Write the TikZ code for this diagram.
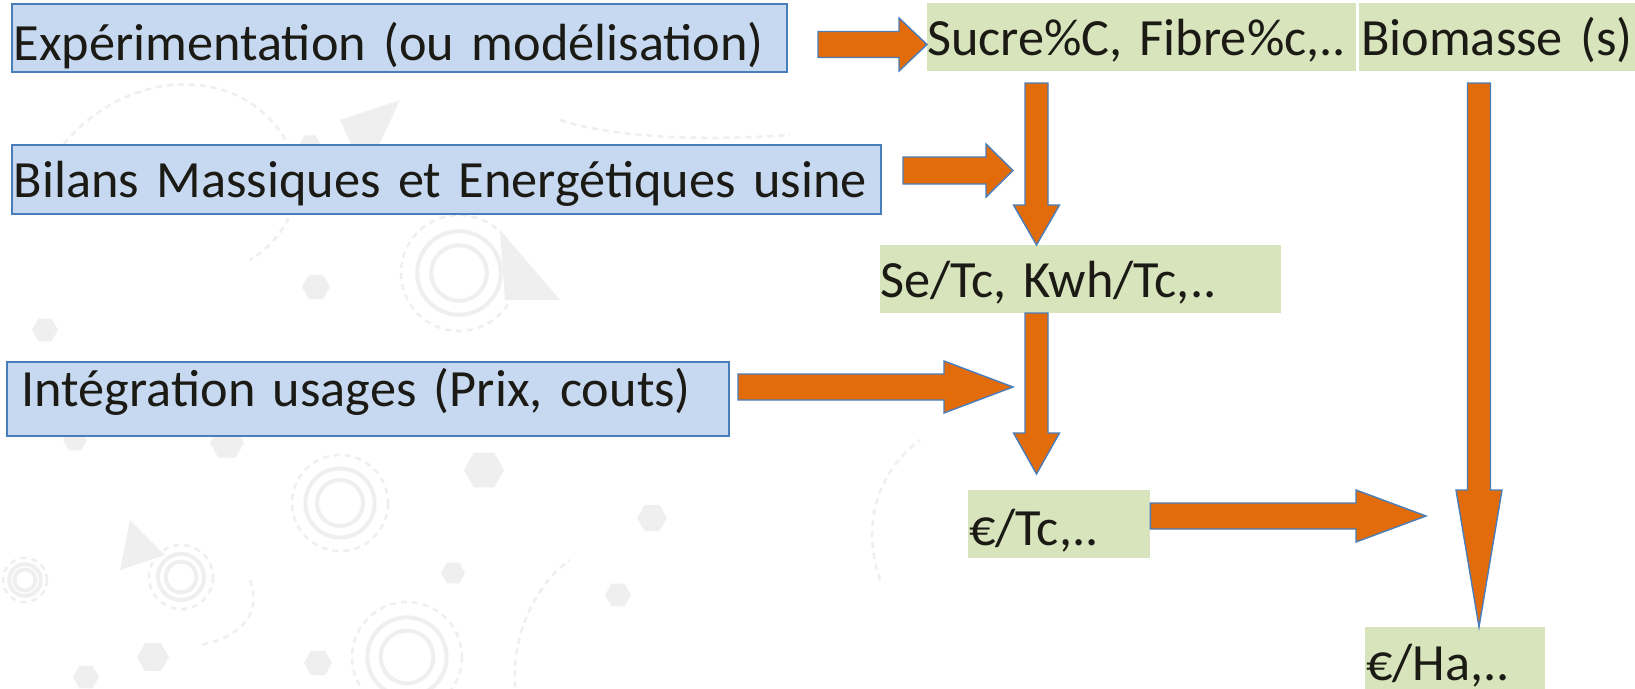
\documentclass[tikz,border=0pt]{standalone}
\usepackage{fontspec}
\setmainfont{Carlito}
\usetikzlibrary{calc,shapes.geometric}

\definecolor{boxblue}{HTML}{C6D9F1}
\definecolor{edgeblue}{HTML}{4A7EBB}
\definecolor{boxgreen}{HTML}{D8E4BC}
\definecolor{arroworange}{HTML}{E36C0A}
\definecolor{inktext}{HTML}{1C1A14}
\definecolor{wmark}{HTML}{EFEFEF}

\tikzset{
  lbl/.style={font=\fontsize{52.3}{60}\selectfont, text=inktext, align=left, anchor=north west, inner ysep=0pt},
  bluebox/.style={lbl, fill=boxblue, draw=edgeblue, line width=1.6pt},
  greenbox/.style={lbl, fill=boxgreen, draw=none, inner xsep=0pt},
  blockarrow/.style={fill=arroworange, draw=edgeblue, line width=1.4pt, line join=miter},
  ring/.style={draw=wmark, line width=4pt},
  dashring/.style={draw=wmark, line width=2.5pt, dash pattern=on 6pt off 5pt},
  hexa/.style={regular polygon, regular polygon sides=6, fill=wmark, draw=none, inner sep=0pt, minimum size=#1},
}

% horizontal block arrow: start, tip, head length, shaft half-width, head half-width
\newcommand{\hblockarrow}[5]{%
  \draw[blockarrow] ($(#1)+(0,-#4)$) -- ($(#2)+(-#3,-#4)$) -- ($(#2)+(-#3,-#5)$) -- (#2)
    -- ($(#2)+(-#3,#5)$) -- ($(#2)+(-#3,#4)$) -- ($(#1)+(0,#4)$) -- cycle;}
% vertical (downward) block arrow: start, tip, head length, shaft half-width, head half-width
\newcommand{\vblockarrow}[5]{%
  \draw[blockarrow] ($(#1)+(-#4,0)$) -- ($(#2)+(-#4,-#3)$) -- ($(#2)+(-#5,-#3)$) -- (#2)
    -- ($(#2)+(#5,-#3)$) -- ($(#2)+(#4,-#3)$) -- ($(#1)+(#4,0)$) -- cycle;}
% faint concentric rings of the background pattern: centre, outer radius
\newcommand{\ringset}[2]{%
  \draw[dashring] (#1) circle[radius=#2];
  \draw[ring] (#1) circle[radius=0.72*#2];
  \draw[ring] (#1) circle[radius=0.48*#2];}

\begin{document}
\begin{tikzpicture}[x=1pt,y=-1pt]
\useasboundingbox[fill=white] (0,0) rectangle (1635,688);

% light background pattern
\ringset{459,273}{58}
\ringset{340,503}{48}
\ringset{181,577}{32}
\ringset{407,657}{55}
\ringset{25,580}{22}
\draw[dashring] (30,200) .. controls (80,80) and (200,60) .. (260,110);
\draw[dashring] (260,110) .. controls (320,160) and (300,230) .. (250,260);
\draw[dashring] (560,120) .. controls (620,140) and (720,140) .. (790,135);
\draw[dashring] (250,580) .. controls (265,620) and (230,640) .. (200,645);
\draw[dashring] (520,720) .. controls (500,640) and (540,580) .. (570,560);
\draw[dashring] (880,580) .. controls (860,520) and (880,470) .. (920,440);
\node[hexa=34pt] (hx1) at (227,443) {};
\node[hexa=28pt] (hx2) at (316,287) {};
\node[hexa=30pt] (hx3) at (652,518) {};
\node[hexa=26pt] (hx4) at (618,595) {};
\node[hexa=32pt] (hx5) at (153,657) {};
\node[hexa=26pt] (hx6) at (86,677) {};
\node[hexa=28pt] (hx7) at (318,663) {};
\node[hexa=40pt] (hx8) at (484,470) {};
\node[hexa=24pt] (hx9) at (453,573) {};
\node[hexa=26pt] (hx10) at (45,330) {};
\node[hexa=22pt] (hx11) at (310,145) {};
\node[hexa=24pt] (hx12) at (75,440) {};
\fill[wmark] (340,120) -- (400,100) -- (365,175) -- cycle;
\fill[wmark] (130,520) -- (165,555) -- (120,570) -- cycle;
\fill[wmark] (500,230) -- (560,300) -- (505,300) -- cycle;

% input boxes (left column)
\node[bluebox, inner xsep=2pt, text width=771pt, text height=57pt, text depth=11pt]
  (exp) at (11,3) {Expérimentation (ou modélisation)};
\node[bluebox, inner xsep=2pt, text width=865pt, text height=53pt, text depth=16pt]
  (bil) at (11,144) {Bilans Massiques et Energétiques usine};
\node[bluebox, inner xsep=15pt, text width=692pt, text height=45pt, text depth=29pt]
  (integ) at (6,361) {Intégration usages (Prix, couts)};

% result boxes
\node[greenbox, text width=429pt, text height=52pt, text depth=16pt]
  (sucre) at (927,3) {Sucre\%C, Fibre\%c,..};
\node[greenbox, inner xsep=2pt, text width=276pt, text height=52pt, text depth=16pt]
  (bio) at (1359,3) {Biomasse (s)};
\node[greenbox, text width=401pt, text height=52pt, text depth=16pt]
  (setc) at (880,245) {Se/Tc, Kwh/Tc,..};
\node[greenbox, inner xsep=1pt, text width=180pt, text height=55pt, text depth=13pt]
  (eurotc) at (968,490) {€/Tc,..};
\node[greenbox, inner xsep=1pt, text width=178pt, text height=53pt, text depth=22pt]
  (euroha) at (1365,627) {€/Ha,..};

% arrow end points
\coordinate (a1s) at (818,44.5);   \coordinate (a1e) at (sucre.west |- a1s);
\coordinate (a2s) at (903,170.5);  \coordinate (a2e) at (1013,170.5);
\coordinate (a3s) at (738,387);    \coordinate (a3e) at (1013,387);
\coordinate (a4s) at (eurotc.east |- 0,516); \coordinate (a4e) at (1426,516);
\coordinate (v1s) at (1036.5,83);  \coordinate (v1e) at (v1s |- setc.north);
\coordinate (v2s) at (1036.5,313); \coordinate (v2e) at (1036.5,474);
\coordinate (v3s) at (1479,83);    \coordinate (v3e) at (v3s |- euroha.north);

% arrows
\hblockarrow{a1s}{a1e}{28}{13}{26.5}
\hblockarrow{a2s}{a2e}{27}{13.5}{26.5}
\hblockarrow{a3s}{a3e}{69}{13}{26}
\hblockarrow{a4s}{a4e}{70}{13}{26}
\vblockarrow{v1s}{v1e}{40}{11.5}{23}
\vblockarrow{v2s}{v2e}{41}{11.5}{23}
\vblockarrow{v3s}{v3e}{137}{11.5}{23}
\end{tikzpicture}
\end{document}
